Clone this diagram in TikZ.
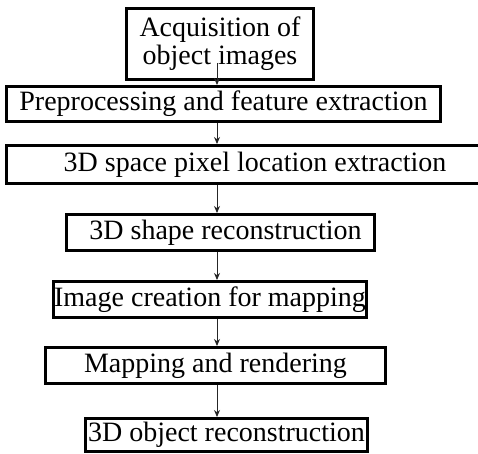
\documentclass[tikz,border=0pt]{standalone}
\usepackage{fontspec}
\setmainfont{Liberation Serif}
\usetikzlibrary{arrows.meta}

\begin{document}
\begin{tikzpicture}[x=0.5pt, y=-0.5pt,
    every node/.style={font=\fontsize{14}{14}\selectfont},
    stage/.style={draw, line width=1.5pt, inner sep=0pt, align=center},
    flow/.style={line width=0.5pt, black!85, -{Stealth[length=3.5pt,width=3pt]}}]
  \useasboundingbox (0,0) rectangle (478,454);

  % processing stages, top to bottom
  \node[stage, minimum width=93.5pt, minimum height=35.5pt] (acq) at (220,44)
    {Acquisition of\\object images};
  \node[stage, minimum width=217pt, minimum height=17.5pt] (prep) at (223.5,104)
    {Preprocessing and feature extraction};
  \node[stage, minimum width=237pt, minimum height=19pt] (pix) at (243.5,164.5)
    {\hspace{11.5pt}3D space pixel location extraction};
  \node[stage, minimum width=154pt, minimum height=18pt] (shape) at (220.5,232.5)
    {\hspace{5pt}3D shape reconstruction};
  \node[stage, minimum width=156.5pt, minimum height=18pt] (img) at (210,299.5)
    {Image creation for mapping};
  \node[stage, minimum width=170pt, minimum height=18pt] (map) at (215.5,365.5)
    {Mapping and rendering};
  \node[stage, minimum width=141pt, minimum height=16.5pt] (obj) at (226.5,435)
    {3D object reconstruction};

  % all arrows run down one column
  \coordinate (col) at (217,0);
  \coordinate (acqout) at ([yshift=9pt]acq.south);

  \draw[flow] (acqout -| col) -- (prep.north -| col);
  \draw[flow] (prep.south -| col) -- (pix.north -| col);
  \draw[flow] (pix.south -| col) -- (shape.north -| col);
  \draw[flow] (shape.south -| col) -- (img.north -| col);
  \draw[flow] (img.south -| col) -- (map.north -| col);
  \draw[flow] (map.south -| col) -- (obj.north -| col);
\end{tikzpicture}
\end{document}
